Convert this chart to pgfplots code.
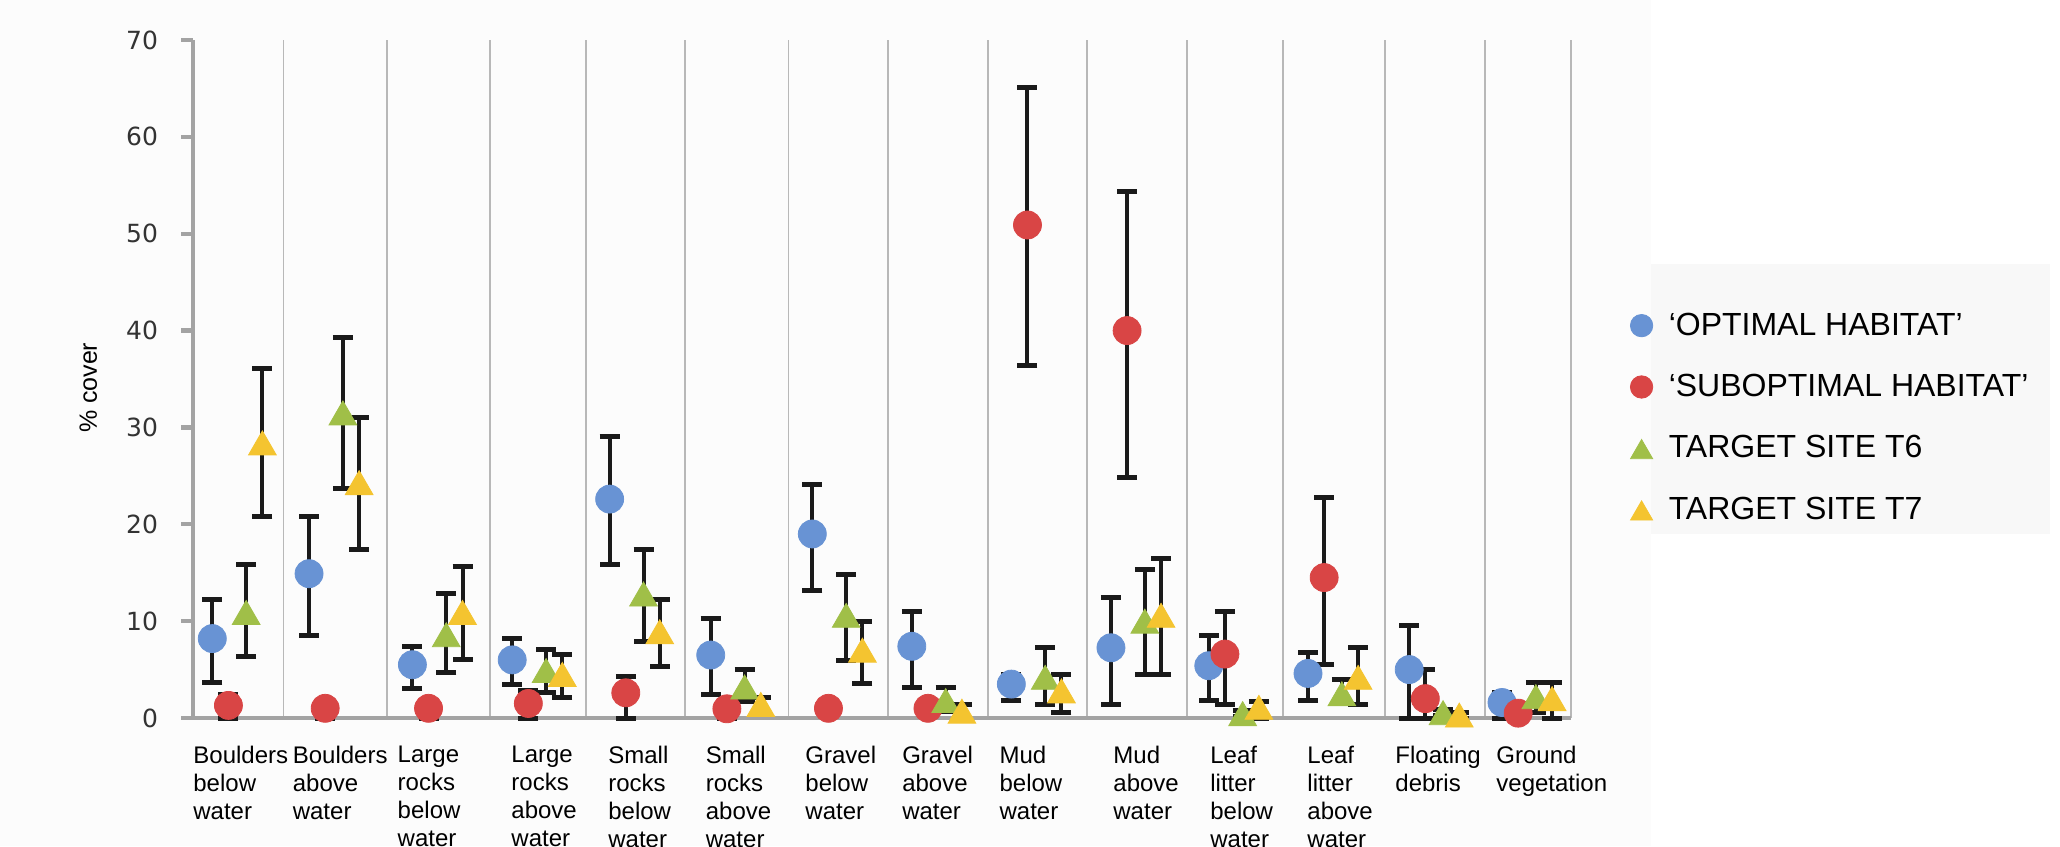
\documentclass[border=0pt]{standalone}
\usepackage{pgfplots}
\pgfplotsset{compat=1.18}
\usepackage{pgfplotstable}
\usepackage{fontspec}
\setmainfont{Liberation Sans}
\newfontfamily\dejavu{DejaVu Sans}
\definecolor{cblue}{HTML}{6893D4}
\definecolor{cred}{HTML}{D94545}
\definecolor{cgreen}{HTML}{A0BF48}
\definecolor{cyellow}{HTML}{F4C430}
\definecolor{axgray}{HTML}{A3A3A3}
\definecolor{gridgray}{HTML}{B8B8B8}
\definecolor{bgA}{HTML}{FCFCFC}
\definecolor{bgL}{HTML}{F8F8F8}
\definecolor{ebar}{HTML}{1A1A1A}

% xc = centre of the category on the axis (categories 0..13)
% A = 'optimal', B = 'suboptimal', C = T6, D = T7 ; p/m = error above/below the mean
\pgfplotstableread{
xc      A    Ap   Am   B    Bp   Bm   C    Cp   Cm   D    Dp   Dm
-0.040  8.2  4.0  4.5  1.3  1.1  1.3  10.9 4.9  4.6  28.4 7.7  7.6
0.943   14.9 5.9  6.4  1.0  0.6  1.0  31.5 7.8  7.8  24.3 6.7  6.9
1.993   5.5  1.9  2.5  1.0  0.6  1.0  8.6  4.3  3.9  10.9 4.7  4.9
3.007   6.0  2.2  2.5  1.5  1.3  1.5  4.9  2.2  2.3  4.5  2.1  2.4
3.997   22.6 6.5  6.8  2.6  1.7  2.6  12.8 4.6  4.9  8.9  3.3  3.6
5.024   6.5  3.8  4.1  0.95 0.5  0.95 3.2  1.8  1.5  1.4  0.7  0.7
6.056   19.0 5.1  5.8  1.0  0.5  0.5  10.6 4.2  4.7  7.0  3.0  3.4
7.067   7.4  3.6  4.2  1.0  0.5  0.5  1.8  1.4  1.1  0.7  0.7  0.7
8.078   3.5  1.0  1.7  50.9 14.2 14.5 4.2  3.05 2.8  2.8  1.7  2.2
9.090   7.25 5.15 5.85 40.0 14.4 15.2 10.0 5.3  5.5  10.6 5.9  6.1
10.084  5.4  3.1  3.6  6.6  4.4  5.2  0.45 0.3  0.3  1.1  0.6  1.1
11.092  4.6  2.2  2.8  14.5 8.3  9.0  2.5  1.5  0.9  4.2  3.05 2.8
12.120  5.0  4.5  5.0  2.0  3.0  2.0  0.55 0.3  0.3  0.3  0.3  0.3
13.063  1.6  1.0  1.6  0.5  0.3  0.5  2.2  1.5  1.6  2.0  1.7  2.0
}\habitat

\begin{document}
\begin{tikzpicture}
% background (1 px of the reference = 0.5pt; axis origin at px (193,718))
\fill[bgA] (-96.5pt,-64pt) rectangle (933.5pt,359pt);
\fill[white] (729pt,-64pt) rectangle (933.5pt,359pt);
\fill[bgL] (729pt,92pt) rectangle (928.5pt,227pt);
\begin{axis}[
  at={(0pt,0pt)}, anchor=south west,
  scale only axis, width=689pt, height=339pt,
  xmin=-0.5, xmax=13.5, ymin=0, ymax=70,
  clip=false,
  axis x line=bottom, axis y line=left,
  axis line style={-, draw=axgray, line width=2.2pt},
  ytick={0,10,...,70},
  tick align=outside,
  major tick length=6pt,
  ytick style={draw=axgray, line width=2.2pt},
  xtick style={draw=none},
  minor tick length=0pt,
  % category labels: left edges of the label blocks
  xtick={-0.5,0.510,1.576,2.731,3.716,4.706,5.718,6.702,7.691,8.847,9.832,10.818,11.712,12.738},
  % category separators
  minor xtick={0.419,1.467,2.519,3.495,4.498,5.550,6.561,7.573,8.583,9.596,10.571,11.613,12.626,13.5},
  xminorgrids,
  minor x grid style={draw=gridgray, line width=0.9pt},
  xticklabels={{Boulders\\below\\water},{Boulders\\above\\water},{Large\\rocks\\below\\water},{Large\\rocks\\above\\water},{Small\\rocks\\below\\water},{Small\\rocks\\above\\water},{Gravel\\below\\water},{Gravel\\above\\water},{Mud\\below\\water},{Mud\\above\\water},{Leaf\\litter\\below\\water},{Leaf\\litter\\above\\water},{Floating\\debris},{Ground\\vegetation}},
  xticklabel style={align=left, anchor=north west, inner sep=0pt, font=\fontsize{12}{14}\selectfont, yshift=-8pt},
  /pgf/number format/assume math mode=true,
  yticklabel style={font=\dejavu\fontsize{12.5}{15}\selectfont, text=black!80, xshift=-8pt},
  ylabel={\% cover},
  ylabel style={at={(axis description cs:-0.076,0.487)}, anchor=center, font=\fontsize{12.5}{15}\selectfont},
  legend cell align=left,
  legend style={at={(axis description cs:1.0428,0.443)}, anchor=west, draw=none, fill=none,
    font=\fontsize{16}{19}\selectfont, row sep=18pt, column sep=8pt, inner sep=0pt,
    nodes={inner sep=0pt}},
  legend image code/.code={\draw[#1, every mark/.append style={scale=0.8}] plot coordinates {(0pt,0pt)};},
  error bars/y dir=both, error bars/y explicit,
  error bars/error bar style={draw=ebar, line width=2pt},
  error bars/error mark options={draw=ebar, line width=2.5pt, mark size=5pt, rotate=90},
]
\addplot[only marks, mark=*, mark size=7pt, mark options={draw=cblue, fill=cblue}]
  table[x expr=\thisrow{xc}-0.264, y=A, y error plus=Ap, y error minus=Am]{\habitat};
\addlegendentry{‘OPTIMAL HABITAT’}
\addplot[only marks, mark=*, mark size=7pt, mark options={draw=cred, fill=cred}]
  table[x expr=\thisrow{xc}-0.10, y=B, y error plus=Bp, y error minus=Bm]{\habitat};
\addlegendentry{‘SUBOPTIMAL HABITAT’}
\addplot[only marks, mark=triangle*, mark size=8pt, mark options={draw=cgreen, fill=cgreen, yshift=-2pt}]
  table[x expr=\thisrow{xc}+0.08, y=C, y error plus=Cp, y error minus=Cm]{\habitat};
\addlegendentry{TARGET SITE T6}
\addplot[only marks, mark=triangle*, mark size=8pt, mark options={draw=cyellow, fill=cyellow, yshift=-2pt}]
  table[x expr=\thisrow{xc}+0.245, y=D, y error plus=Dp, y error minus=Dm]{\habitat};
\addlegendentry{TARGET SITE T7}
\end{axis}
\pgfresetboundingbox
\path[use as bounding box] (-96.5pt,-64pt) rectangle (933.5pt,359pt);
\end{tikzpicture}
\end{document}
